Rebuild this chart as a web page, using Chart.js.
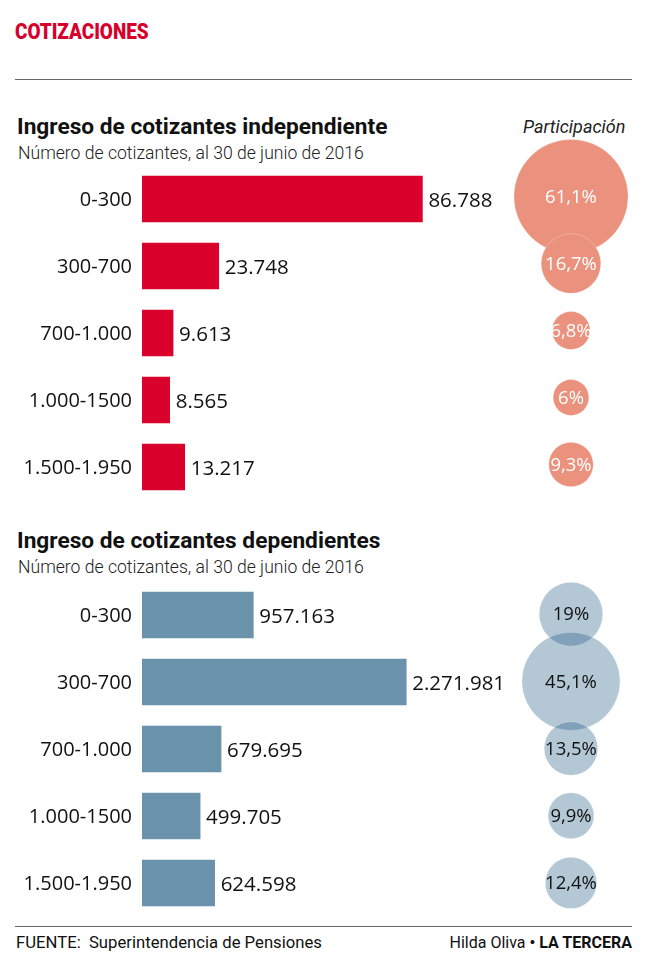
<!DOCTYPE html>
<html>
<head>
<meta charset="utf-8">
<script src="https://cdn.jsdelivr.net/npm/chart.js@4"></script>
<style>
  html, body { margin:0; padding:0; background:#fff; }
  #page { position:relative; width:657px; height:960px; overflow:hidden; background:#fff; font-family: Roboto, "Open Sans", sans-serif; color:#111; }
  .abs { position:absolute; white-space:nowrap; line-height:1; }
  .rule { position:absolute; left:15px; width:617px; height:0; border-top:1.5px solid #666; }
  canvas { position:absolute; }
</style>
</head>
<body>
<div id="page">
  <div class="abs" id="title" style="left:15px; top:21px; font-size:22px; font-weight:900; color:#d7002c; transform:scaleX(0.86); transform-origin:left;">COTIZACIONES</div>
  <div class="rule" style="top:79px;"></div>

  <div class="abs" style="left:17px; top:116px; font-size:22.7px; font-weight:700;">Ingreso de cotizantes independiente</div>
  <div class="abs" style="left:18px; top:145px; font-size:17.6px; font-weight:300; color:#222;">Número de cotizantes, al 30 de junio de 2016</div>
  <div class="abs" style="left:523px; top:118px; font-size:18px; font-style:italic; color:#222;">Participación</div>

  <div class="abs" style="left:17px; top:530px; font-size:22.7px; font-weight:700;">Ingreso de cotizantes dependientes</div>
  <div class="abs" style="left:18px; top:559px; font-size:17.6px; font-weight:300; color:#222;">Número de cotizantes, al 30 de junio de 2016</div>

  <div class="rule" style="top:926px;"></div>
  <div class="abs" style="left:16px; top:935px; font-size:16.7px; color:#111;">FUENTE:&nbsp; Superintendencia de Pensiones</div>
  <div class="abs" style="right:25px; top:935px; font-size:16px; color:#111;">Hilda Oliva <b>• LA TERCERA</b></div>

  <canvas id="barsTop" width="520" height="380" style="left:0; top:130px;"></canvas>
  <canvas id="bubTop" width="140" height="380" style="left:501px; top:130px;"></canvas>
  <canvas id="barsBot" width="520" height="370" style="left:0; top:560px;"></canvas>
  <canvas id="bubBot" width="140" height="370" style="left:501px; top:560px;"></canvas>
</div>
<script>
// ---- data ----
const categories = ["0-300", "300-700", "700-1.000", "1.000-1500", "1.500-1.950"];
const independientes = [86788, 23748, 9613, 8565, 13217];
const independientesPct = [61.1, 16.7, 6.8, 6, 9.3];
const dependientes = [957163, 2271981, 679695, 499705, 624598];
const dependientesPct = [19, 45.1, 13.5, 9.9, 12.4];

// ---- helpers ----
const fmtNum = v => String(v).replace(/\B(?=(\d{3})+(?!\d))/g, '.');
const fmtPct = v => String(v).replace('.', ',') + '%';
const BUBBLE_K = 7.3;
const NUM_FONT = '"Open Sans", sans-serif';

const valueLabels = {
  id: 'valueLabels',
  afterDatasetsDraw(chart) {
    const ctx = chart.ctx;
    const meta = chart.getDatasetMeta(0);
    const data = chart.data.datasets[0].data;
    const yScale = chart.scales.y;
    ctx.save();
    ctx.fillStyle = '#111';
    ctx.textBaseline = 'middle';
    // category tick labels, from the y scale
    ctx.font = '20px ' + NUM_FONT;
    ctx.textAlign = 'right';
    yScale.ticks.forEach((t, i) => {
      ctx.fillText(yScale.getLabelForValue(t.value), yScale.right - 10, yScale.getPixelForTick(i) + 1);
    });
    // values
    ctx.font = '20.5px ' + NUM_FONT;
    ctx.textAlign = 'left';
    meta.data.forEach((bar, i) => {
      ctx.fillText(fmtNum(data[i]), bar.x + 6, bar.y + 2);
    });
    ctx.restore();
  }
};

const pctLabels = {
  id: 'pctLabels',
  afterDatasetsDraw(chart, args, opts) {
    const ctx = chart.ctx;
    const meta = chart.getDatasetMeta(0);
    const pcts = chart.data.datasets[0].pcts;
    ctx.save();
    ctx.font = opts.weight + ' 18.5px ' + NUM_FONT;
    ctx.fillStyle = opts.color;
    ctx.textBaseline = 'middle';
    ctx.textAlign = 'center';
    meta.data.forEach((pt, i) => {
      ctx.fillText(fmtPct(pcts[i]), pt.x, pt.y + 1);
    });
    ctx.restore();
  }
};

function barChart(id, values, color, xMax, padTop, padBottom) {
  return new Chart(document.getElementById(id), {
    type: 'bar',
    data: {
      labels: categories,
      datasets: [{ data: values, backgroundColor: color, barThickness: 46 }]
    },
    options: {
      indexAxis: 'y',
      responsive: false,
      animation: false,
      layout: { autoPadding: false, padding: { top: padTop, bottom: padBottom, left: 0, right: 0 } },
      plugins: { legend: { display: false }, tooltip: { enabled: false } },
      scales: {
        x: { min: 0, max: xMax, display: false },
        y: {
          grid: { display: false, drawTicks: false },
          border: { display: false },
          ticks: { display: false },
          afterFit(scale) { scale.width = 142; }
        }
      }
    },
    plugins: [valueLabels]
  });
}

function bubbleChart(id, pcts, color, textColor, weight, padTop, padBottom) {
  return new Chart(document.getElementById(id), {
    type: 'bubble',
    data: {
      labels: categories,
      datasets: [{
        data: categories.map((c, i) => ({ x: 0, y: c, r: BUBBLE_K * Math.sqrt(pcts[i]) })),
        pcts: pcts,
        backgroundColor: color,
        borderColor: 'rgba(255,255,255,0.25)',
        borderWidth: 1,
        clip: false
      }]
    },
    options: {
      responsive: false,
      animation: false,
      layout: { autoPadding: false, padding: { top: padTop, bottom: padBottom, left: 0, right: 0 } },
      plugins: { legend: { display: false }, tooltip: { enabled: false }, pctLabels: { color: textColor, weight: weight } },
      scales: {
        x: { type: 'linear', min: -1, max: 1, display: false },
        y: { type: 'category', labels: categories, display: false, offset: true }
      }
    },
    plugins: [pctLabels]
  });
}

// top: chart area from y=165.5 to 500.5 (page); canvas top 130
barChart('barsTop', independientes, '#d9002c', 117000, 35.5, 9.5);
bubbleChart('bubTop', independientesPct, '#ea927d', '#ffffff', '500', 33, 12);
// bottom: chart area from y=581.5 to 916.5 (page); canvas top 560
barChart('barsBot', dependientes, '#6a93ab', 3250000, 21.5, 13.5);
bubbleChart('bubBot', dependientesPct, 'rgba(20,80,125,0.32)', '#111111', '400', 20.5, 13.5);
</script>
</body>
</html>
